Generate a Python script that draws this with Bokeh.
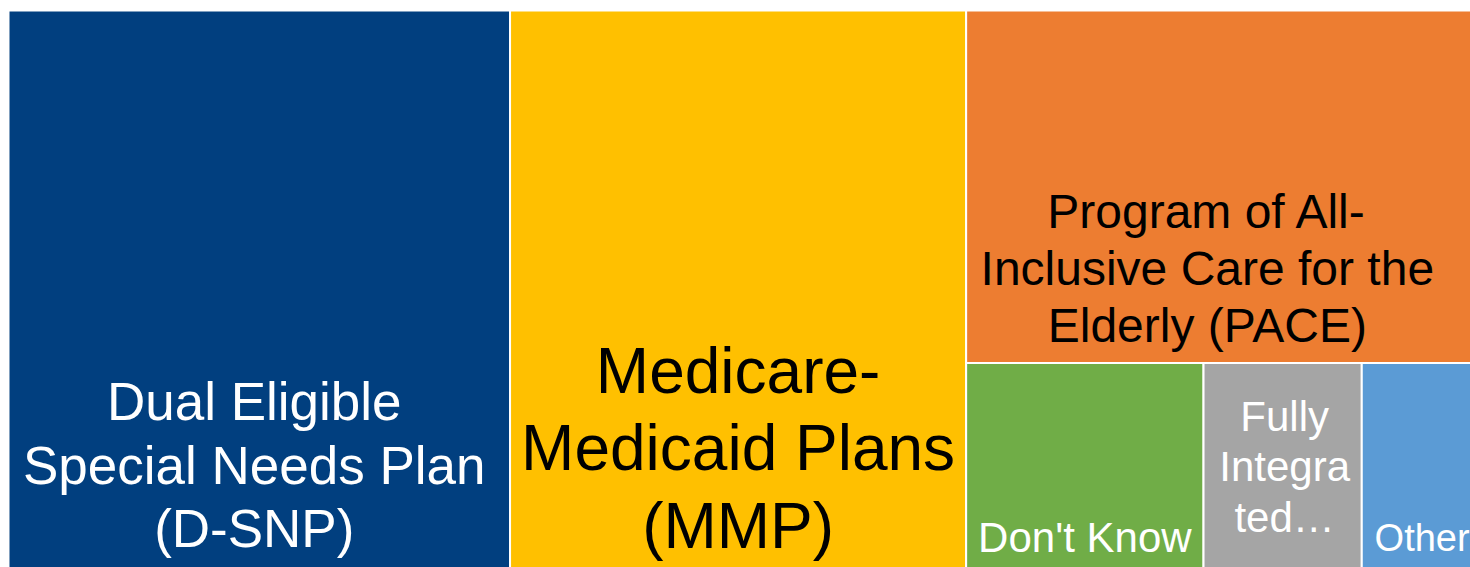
from bokeh.plotting import figure
from bokeh.models import Range1d, ColumnDataSource
from bokeh.core.properties import value
from bokeh.embed import file_html
from bokeh.resources import INLINE

# ---- data ----
categories = [
    "Dual Eligible Special Needs Plan (D-SNP)",
    "Medicare-Medicaid Plans (MMP)",
    "Program of All-Inclusive Care for the Elderly (PACE)",
    "Don't Know",
    "Fully Integrated",
    "Other",
]
labels = [
    "Dual Eligible\nSpecial Needs Plan\n(D-SNP)",
    "Medicare-\nMedicaid Plans\n(MMP)",
    "Program of All-\nInclusive Care for the\nElderly (PACE)",
    "Don't Know",
    "Fully\nIntegra\nted\u2026",
    "Other",
]
shares = [34.2, 31.1, 21.9, 6.0, 4.0, 2.9]

# ---- styles ----
colors = ["#013F7F", "#FFC000", "#ED7D31", "#70AD47", "#A5A5A5", "#5B9BD5"]
text_colors = ["white", "black", "black", "white", "white", "white"]
font_px = [53, 64, 48, 42, 42, 38]
bottom_pad = [7, 4, 8, 5, 25, 7]
x_nudge = [-5, 0, -14, 0, 2, 3]

FIG_W, FIG_H = 1470, 567
X0, Y0, W, H = 8, -3, 1468, 560


def worst(row, short):
    s = sum(row)
    return max(max(short * short * r / (s * s), s * s / (short * short * r)) for r in row)


def squarify(vals, x, y, w, h):
    tot = sum(vals)
    areas = [v / tot * w * h for v in vals]
    rects = []
    while areas:
        short = min(w, h)
        row = [areas[0]]
        i = 1
        while i < len(areas) and worst(row + [areas[i]], short) <= worst(row, short):
            row.append(areas[i])
            i += 1
        s = sum(row)
        if w >= h:
            cw = s / h
            cy = y + h
            for a in row:
                rh = a / cw
                rects.append((x, x + cw, cy - rh, cy))
                cy -= rh
            x += cw
            w -= cw
        else:
            rh = s / w
            cx = x
            for a in row:
                rw = a / rh
                rects.append((cx, cx + rw, y + h - rh, y + h))
                cx += rw
            h -= rh
        areas = areas[i:]
    return rects


rects = squarify(shares, X0, Y0, W, H)
src = ColumnDataSource(dict(
    left=[r[0] for r in rects], right=[r[1] for r in rects],
    bottom=[r[2] for r in rects], top=[r[3] for r in rects],
    color=colors, name=categories,
))

p = figure(width=FIG_W, height=FIG_H, x_range=Range1d(0, FIG_W), y_range=Range1d(0, FIG_H),
           output_backend="svg", toolbar_location=None, min_border=0,
           background_fill_color="white", border_fill_color="white")
p.xaxis.visible = False
p.yaxis.visible = False
p.grid.visible = False
p.outline_line_color = None

p.quad(left="left", right="right", bottom="bottom", top="top", source=src,
       fill_color="color", line_color="white", line_width=2)

for i, r in enumerate(rects):
    n = labels[i].count("\n") + 1
    cx = (r[0] + r[1]) / 2 + x_nudge[i]
    cy = max(r[2], 0) + n * font_px[i] * 1.2 / 2 + bottom_pad[i]
    p.text(x=[cx], y=[cy], text=[labels[i]], text_align="center", text_baseline="middle",
           text_font=value("Liberation Sans"), text_font_size=f"{font_px[i]}px",
           text_color=text_colors[i], text_line_height=1.075)

open("out.html", "w").write(file_html(p, INLINE))
